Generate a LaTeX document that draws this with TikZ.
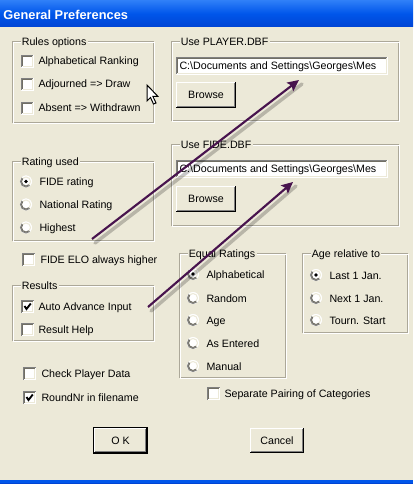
\documentclass[tikz,border=0pt]{standalone}
\usepackage{fontspec}
\setmainfont{Liberation Sans}
\usetikzlibrary{arrows.meta}
\definecolor{xpbg}{RGB}{236,233,216}
\definecolor{xpgray}{RGB}{172,168,153}
\definecolor{xpdark}{RGB}{113,111,100}
\definecolor{xpshadow}{RGB}{128,128,128}
\definecolor{arrowc}{RGB}{72,20,78}
\definecolor{tbtop}{RGB}{48,128,248}
\definecolor{tbmid}{RGB}{0,86,234}
\definecolor{tbbot}{RGB}{0,68,212}
\tikzset{
  lbl/.style={font=\fontsize{8}{10}\selectfont, inner sep=0pt, anchor=base west},
  grptitle/.style={lbl, fill=xpbg, inner xsep=1pt, inner ysep=1pt},
  btntext/.style={font=\fontsize{8}{10}\selectfont, inner sep=0pt},
  connector/.style={arrowc, line width=1.6pt, -{Stealth[length=8.5pt,width=8pt,inset=1.5pt]}},
  connshadow/.style={black, opacity=0.22, line width=2.6pt, line cap=round},
}
\newcommand\xpgroup[6]{%
  \draw[xpgray] (#1,#2) rectangle (#3-1,#4-1);
  \draw[white] (#1+1,#2+1) rectangle (#3,#4);
  \node[grptitle] (#5) at (#1+8,#2+4) {#6};}
\newcommand\xpcheck[2]{%
  \fill[white] (#1,#2) rectangle ++(13,13);
  \draw[xpshadow] (#1+0.5,#2+12.5) -- (#1+0.5,#2+0.5) -- (#1+12.5,#2+0.5);
  \draw[xpdark] (#1+1.5,#2+11.5) -- (#1+1.5,#2+1.5) -- (#1+11.5,#2+1.5);
  \draw[white] (#1+12.5,#2+0.5) -- (#1+12.5,#2+12.5) -- (#1+0.5,#2+12.5);
  \draw[xpbg] (#1+11.5,#2+1.5) -- (#1+11.5,#2+11.5) -- (#1+1.5,#2+11.5);}
\newcommand\xpchecked[2]{%
  \xpcheck{#1}{#2}
  \draw[black, line width=1.4pt] (#1+3.5,#2+6) -- (#1+5.5,#2+9) -- (#1+9.8,#2+3.5);}
\newcommand\xpradio[2]{%
  \fill[white] (#1,#2) circle (6);
  \draw[xpshadow] ([shift={(#1,#2)}]45:5.5) arc (45:225:5.5);
  \draw[xpdark] ([shift={(#1,#2)}]45:4.5) arc (45:225:4.5);
  \draw[white] ([shift={(#1,#2)}]225:5.5) arc (225:405:5.5);
  \draw[xpbg] ([shift={(#1,#2)}]225:4.5) arc (225:405:4.5);}
\newcommand\xpradiosel[2]{%
  \xpradio{#1}{#2}
  \fill[black] (#1,#2) circle (1.9);}
\newcommand\xpbutton[6]{%
  \fill[xpbg] (#1,#2) rectangle (#3,#4);
  \draw[black] (#1,#4-0.5) -- (#3-0.5,#4-0.5) -- (#3-0.5,#2);
  \draw[xpshadow] (#1+1,#4-1.5) -- (#3-1.5,#4-1.5) -- (#3-1.5,#2+1);
  \draw[white] (#1+0.5,#4-1) -- (#1+0.5,#2+0.5) -- (#3-1,#2+0.5);
  \node[btntext] (#5) at ({(#1+#3)/2},{(#2+#4)/2}) {#6};}
\newcommand\xpfield[6]{%
  \fill[white] (#1,#2) rectangle (#3,#4);
  \draw[xpshadow] (#1+0.5,#4-0.5) -- (#1+0.5,#2+0.5) -- (#3-0.5,#2+0.5);
  \draw[xpdark] (#1+1.5,#4-1.5) -- (#1+1.5,#2+1.5) -- (#3-1.5,#2+1.5);
  \draw[white] (#3-0.5,#2+0.5) -- (#3-0.5,#4-0.5) -- (#1+0.5,#4-0.5);
  \draw[xpbg] (#3-1.5,#2+1.5) -- (#3-1.5,#4-1.5) -- (#1+1.5,#4-1.5);
  \node[lbl] (#5) at (#1+3,#2+13) {#6};}
\begin{document}
\begin{tikzpicture}[x=0.75pt,y=-0.75pt,line width=0.75pt]
\useasboundingbox (0,0) rectangle (413,484);
% window background
\fill[xpbg] (0,0) rectangle (413,484);
% title bar
\shade[top color=tbtop, bottom color=tbbot, middle color=tbmid] (0,0) rectangle (413,27);
\node[lbl, font=\fontsize{9.6}{11}\selectfont\bfseries, text=white] (title) at (3,20) {General Preferences};
% bottom border
\fill[tbmid] (0,480) rectangle (413,484);
\fill[tbbot] (0,483) rectangle (413,484);

% Rules options
\xpgroup{12}{42}{154}{124}{grules}{Rules options}
\xpcheck{21}{55}
\node[lbl] (alpharank) at (38,65) {Alphabetical Ranking};
\xpcheck{21}{78}
\node[lbl] (adjourned) at (38,88) {Adjourned => Draw};
\xpcheck{21}{102}
\node[lbl] (absent) at (38,112) {Absent => Withdrawn};

% Use PLAYER.DBF
\xpgroup{171}{42}{399}{122}{gplayer}{Use PLAYER.DBF}
\xpfield{176}{57}{388}{75}{playerpath}{C:\textbackslash Documents and Settings\textbackslash Georges\textbackslash Mes}
\xpbutton{176}{82}{236}{108}{browse1}{Browse}

% Use FIDE.DBF
\xpgroup{171}{145}{399}{227}{gfide}{Use FIDE.DBF}
\xpfield{176}{160}{388}{178}{fidepath}{C:\textbackslash Documents and Settings\textbackslash Georges\textbackslash Mes}
\xpbutton{176}{186}{236}{212}{browse2}{Browse}

% Rating used
\xpgroup{12}{162}{154}{241}{grating}{Rating used}
\xpradiosel{26}{181.5}
\node[lbl] (fiderating) at (39,185.5) {FIDE rating};
\xpradio{26}{204.5}
\node[lbl] (natrating) at (39,208.5) {National Rating};
\xpradio{26}{227.5}
\node[lbl] (highest) at (39,231.5) {Highest};

% FIDE ELO always higher
\xpcheck{22}{253}
\node[lbl] (fideelo) at (40,263) {FIDE ELO always higher};

% Results
\xpgroup{12}{285}{154}{341}{gresults}{Results}
\xpchecked{21}{300}
\node[lbl] (autoadv) at (38,310) {Auto Advance Input};
\xpcheck{21}{323}
\node[lbl] (reshelp) at (38,333) {Result Help};

% Check player data / RoundNr
\xpcheck{23}{367}
\node[lbl] (checkpd) at (41,377) {Check Player Data};
\xpchecked{23}{391}
\node[lbl] (roundnr) at (41,401) {RoundNr in filename};

% Equal Ratings
\xpgroup{179}{253}{286}{378}{gequal}{Equal Ratings}
\xpradiosel{193}{274}
\node[lbl] (eqalpha) at (206,278) {Alphabetical};
\xpradio{193}{298}
\node[lbl] (eqrandom) at (206,302) {Random};
\xpradio{193}{320}
\node[lbl] (eqage) at (206,324) {Age};
\xpradio{193}{343}
\node[lbl] (eqentered) at (206,347) {As Entered};
\xpradio{193}{366}
\node[lbl] (eqmanual) at (206,370) {Manual};

% Age relative to
\xpgroup{302}{253}{408}{333}{gage}{Age relative to}
\xpradiosel{316}{275}
\node[lbl] (agelast) at (329,279) {Last 1 Jan.};
\xpradio{316}{298}
\node[lbl] (agenext) at (329,302) {Next 1 Jan.};
\xpradio{316}{320}
\node[lbl] (agetourn) at (329,324) {Tourn. Start};

% Separate pairing
\xpcheck{207}{387}
\node[lbl] (separate) at (224,397) {Separate Pairing of Categories};

% Buttons
\fill[black] (93,427) rectangle (148,454);
\xpbutton{94}{428}{147}{453}{okbtn}{O K}
\xpbutton{250}{428}{304}{453}{cancelbtn}{Cancel}

% Arrows
\coordinate (a1s) at (92,239);
\coordinate (a1e) at (299,80);
\coordinate (a2s) at (148,307);
\coordinate (a2e) at (293,182);
\draw[connshadow] ([shift={(3,4)}]a1s) -- ([shift={(3,4)}]a1e);
\draw[connshadow] ([shift={(3,4)}]a2s) -- ([shift={(3,4)}]a2e);
\draw[connector] (a1s) -- (a1e);
\draw[connector] (a2s) -- (a2e);

% mouse cursor
\draw[black, fill=white, line join=miter] (147,85) -- ++(0,16) -- ++(3.5,-3.5) -- ++(3,6.5) -- ++(2.5,-1) -- ++(-3,-6.5) -- ++(5,0) -- cycle;
\end{tikzpicture}
\end{document}
